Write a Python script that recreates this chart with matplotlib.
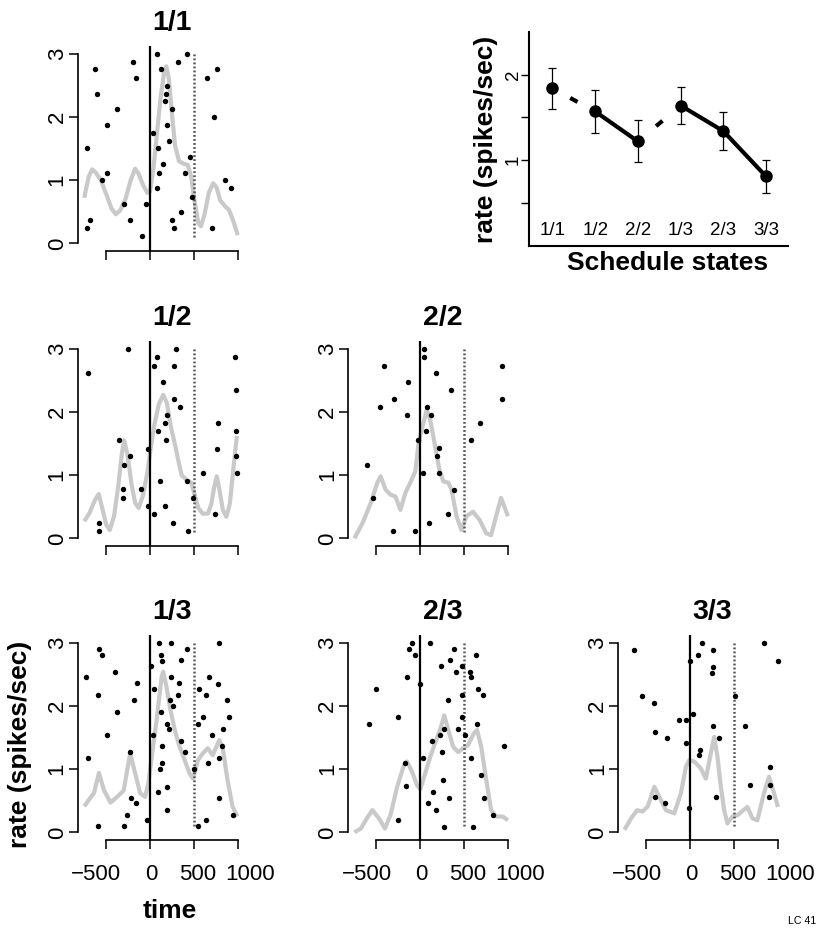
import numpy as np
import matplotlib
matplotlib.use("Agg")
from matplotlib import pyplot as plt
from matplotlib.transforms import ScaledTranslation

plt.rcParams['font.family'] = ['Liberation Sans', 'DejaVu Sans']
plt.rcParams['lines.scale_dashes'] = False

W, H = 825, 930

# summary: mean rate per schedule state
states = ["1/1", "1/2", "2/2", "1/3", "2/3", "3/3"]
state_rate = [1.84, 1.57, 1.22, 1.64, 1.34, 0.81]
state_err = [0.24, 0.25, 0.245, 0.22, 0.22, 0.19]
link_solid = [False, True, False, True, True]   # dashed = schedule change

# spike rasters (time, scaled trial row) and smoothed rate per state
sp11_t = [75, 425, -632, 120, 767, -199, 323, -158, 647, 199, -602, 184, 165, -380, 252, 733, -496, 188, 38, 218,
          -714, 90, 451, 150, -496, 102, 402, -553, 857, 75, 921, 478, -301, -45, 350, -681, -226, 256, -714, 278, 707, -86]
sp11_y = [3.0, 3.0, 2.75, 2.75, 2.75, 2.87, 2.87, 2.62, 2.62, 2.49, 2.37, 2.37, 2.25, 2.12, 2.12, 2.0, 1.87, 1.87, 1.74, 1.62,
          1.5, 1.5, 1.37, 1.25, 1.12, 1.12, 1.12, 1.0, 1.0, 0.87, 0.87, 0.74, 0.62, 0.62, 0.5, 0.37, 0.37, 0.37, 0.25, 0.25, 0.25, 0.12]
rt11_t = [-750, -700, -660, -620, -560, -500, -440, -390, -340, -280, -220, -170, -130, -80, -30, 0, 40, 80, 120, 160,
          185, 215, 250, 285, 330, 380, 430, 470, 510, 550, 580, 620, 670, 720, 760, 800, 860, 900, 950, 1000]
rt11_y = [0.72, 1.05, 1.17, 1.12, 1.0, 0.78, 0.55, 0.46, 0.52, 0.70, 1.0, 1.18, 1.1, 0.92, 0.80, 0.82, 1.2, 1.75, 2.3, 2.7,
          2.8, 2.6, 2.05, 1.55, 1.3, 1.26, 1.24, 1.05, 0.65, 0.32, 0.27, 0.45, 0.80, 0.95, 0.88, 0.68, 0.58, 0.53, 0.35, 0.13]

sp12_t = [-707, -256, 301, 75, 970, 45, 278, 150, 978, 271, 342, 196, 169, 775, 90, 985, -350, 180, -19, 767,
          -226, 985, -293, 609, 993, 109, 421, -308, -102, -312, 489, -19, 165, 45, 745, -579, 267, -587, 436]
sp12_y = [2.61, 3.0, 3.0, 2.87, 2.87, 2.73, 2.73, 2.48, 2.35, 2.21, 2.08, 1.95, 1.82, 1.82, 1.69, 1.69, 1.56, 1.56, 1.42, 1.42,
          1.30, 1.30, 1.16, 1.04, 1.04, 0.90, 0.90, 0.78, 0.78, 0.64, 0.64, 0.51, 0.51, 0.38, 0.38, 0.25, 0.25, 0.12, 0.12]
rt12_t = [-750, -690, -630, -585, -540, -500, -460, -410, -360, -320, -295, -260, -210, -170, -130, -80, -30, 10, 50, 100,
          150, 190, 240, 290, 330, 360, 420, 470, 510, 550, 600, 660, 700, 730, 760, 790, 830, 870, 910, 950, 990]
rt12_y = [0.27, 0.40, 0.60, 0.70, 0.45, 0.22, 0.13, 0.35, 0.85, 1.35, 1.55, 1.35, 0.85, 0.56, 0.48, 0.68, 1.05, 1.45, 1.80, 2.12,
          2.27, 2.15, 1.75, 1.45, 1.18, 1.0, 0.92, 0.88, 0.68, 0.48, 0.39, 0.39, 0.55, 0.80, 0.98, 0.78, 0.45, 0.34, 0.55, 1.1, 1.62]

sp22_t = [38, 45, -414, 929, 177, -143, 346, -297, 936, -462, 75, -150, 120, 677, 68, -30, 575, 214, 188, -609,
          26, 218, 380, -541, 320, 102, -316, -60]
sp22_y = [3.0, 2.87, 2.73, 2.73, 2.61, 2.48, 2.35, 2.21, 2.21, 2.08, 2.08, 1.95, 1.95, 1.82, 1.69, 1.56, 1.56, 1.43, 1.30, 1.16,
          1.04, 1.04, 0.77, 0.64, 0.38, 0.25, 0.12, 0.12]
rt22_t = [-750, -658, -564, -489, -451, -395, -338, -282, -226, -169, -113, -56, -19, 19, 75, 120, 169, 218, 263, 320,
          357, 414, 470, 526, 602, 677, 752, 808, 865, 921, 1000]
rt22_y = [0.0, 0.24, 0.56, 0.88, 0.98, 0.77, 0.69, 0.66, 0.45, 0.72, 0.88, 1.06, 1.51, 1.73, 2.04, 1.83, 1.46, 1.09, 0.9, 0.88,
          0.77, 0.35, 0.13, 0.35, 0.42, 0.29, 0.08, 0.05, 0.35, 0.64, 0.35]

sp13_t = [-733, -703, -583, -553, -590, -590, -402, -376, -496, -297, -259, -233, -214, -180, -162, -147, -30, 11, 30, 41,
          98, 90, 128, 139, 117, 139, 128, 132, 241, 244, 199, 214, 199, 199, 229, 267, 331, 323, 353, 357,
          395, 421, 500, 545, 553, 545, 609, 643, 658, 643, 677, 707, 786, 775, 782, 786, 820, 827, 872, 902, 948]
sp13_y = [2.45, 1.18, 2.9, 2.81, 2.18, 0.1, 2.54, 1.91, 1.54, 0.1, 0.27, 1.27, 0.55, 2.09, 0.46, 2.36, 0.19, 2.63, 1.54, 2.26,
          3.0, 0.64, 2.81, 2.71, 1.0, 1.09, 1.91, 1.36, 3.0, 2.45, 1.72, 1.63, 0.72, 0.36, 2.09, 2.0, 2.36, 2.18, 1.45, 2.72,
          1.27, 2.9, 1.0, 0.1, 2.27, 1.72, 1.82, 2.18, 1.09, 0.19, 2.45, 1.54, 3.0, 2.35, 1.18, 0.55, 1.36, 1.63, 2.09, 1.82, 0.27]
rt13_t = [-750, -684, -639, -583, -526, -451, -376, -301, -226, -169, -113, -56, -19, 19, 75, 132, 150, 188, 226, 282,
          338, 395, 451, 489, 545, 602, 658, 714, 790, 827, 883, 940, 996]
rt13_y = [0.41, 0.54, 0.62, 0.94, 0.67, 0.47, 0.56, 0.66, 1.25, 0.93, 0.62, 0.56, 0.77, 1.19, 1.77, 2.46, 2.54, 2.3, 1.98, 1.62,
          1.35, 1.14, 0.93, 0.85, 1.14, 1.25, 1.33, 1.22, 1.46, 1.35, 0.83, 0.41, 0.25]

sp23_t = [-583, -504, -256, -252, -169, -165, -154, -124, -90, -64, 0, 30, 94, 109, 135, 147, 177, 229, 237, 248,
          256, 267, 274, 312, 323, 342, 380, 410, 436, 474, 477, 474, 508, 568, 583, 575, 598, 632, 647, 662,
          692, 718, 726, 831, 955]
sp23_y = [1.72, 2.26, 0.19, 1.82, 1.09, 0.73, 2.45, 2.9, 3.0, 2.81, 2.35, 1.18, 0.46, 3.0, 1.45, 0.64, 0.36, 1.54, 2.63, 1.27,
          0.82, 0.09, 1.63, 2.09, 0.55, 2.72, 2.9, 2.54, 1.63, 2.63, 2.18, 1.82, 1.54, 2.54, 2.45, 1.18, 0.09, 2.81, 1.72, 2.27,
          0.91, 2.18, 0.55, 0.28, 1.36]
rt23_t = [-750, -677, -609, -545, -470, -402, -338, -263, -188, -150, -94, -38, 0, 56, 113, 169, 226, 274, 320, 376,
          432, 489, 545, 609, 647, 696, 752, 808, 865, 940, 1000]
rt23_y = [0.0, 0.06, 0.22, 0.35, 0.22, 0.06, 0.28, 0.72, 1.05, 1.12, 0.96, 0.75, 0.68, 0.93, 1.19, 1.41, 1.62, 1.85, 1.62, 1.35,
          1.27, 1.33, 1.38, 1.56, 1.62, 1.35, 0.83, 0.35, 0.25, 0.25, 0.19]

sp33_t = [-640, -550, -417, -405, -405, -292, -269, -133, -53, -53, -15, 0, 27, 83, 99, 117, 136, 250, 262, 265,
          254, 292, 326, 512, 622, 682, 845, 913, 906, 902, 1000]
sp33_y = [2.89, 2.15, 2.05, 1.59, 0.56, 0.47, 1.5, 1.78, 1.78, 1.41, 0.38, 2.71, 1.87, 2.8, 1.22, 1.31, 2.99, 2.52, 2.62, 2.89,
          1.68, 0.56, 1.5, 2.15, 1.68, 0.75, 2.99, 1.03, 0.75, 0.56, 2.71]
rt33_t = [-750, -675, -606, -542, -485, -409, -352, -277, -182, -106, -49, -11, 45, 121, 178, 235, 273, 311, 349, 387,
          424, 481, 538, 606, 652, 709, 765, 841, 898, 955, 1000]
rt33_y = [0.04, 0.22, 0.35, 0.33, 0.41, 0.72, 0.56, 0.35, 0.3, 0.62, 1.04, 1.14, 1.12, 1.01, 0.85, 1.25, 1.51, 1.19, 0.72, 0.35,
          0.14, 0.25, 0.27, 0.35, 0.4, 0.22, 0.19, 0.62, 0.88, 0.62, 0.4]

panels = {
    "1/1": (0, 0, sp11_t, sp11_y, rt11_t, rt11_y),
    "1/2": (1, 0, sp12_t, sp12_y, rt12_t, rt12_y),
    "2/2": (1, 1, sp22_t, sp22_y, rt22_t, rt22_y),
    "1/3": (2, 0, sp13_t, sp13_y, rt13_t, rt13_y),
    "2/3": (2, 1, sp23_t, sp23_y, rt23_t, rt23_y),
    "3/3": (2, 2, sp33_t, sp33_y, rt33_t, rt33_y),
}

fig = plt.figure(figsize=(W / 100, H / 100), dpi=100)


def add_ax(left, top, w, h):
    return fig.add_axes([left / W, 1 - (top + h) / H, w / W, h / H])


col_left = [78.1, 348.3, 618.3]
row_top = [46.1, 341.1, 635.1]
PW, PH = 188.6, 204.8
xlab_shift = [-7.0, 0.7, 2.8, 8.6]   # points, spreads the time labels like the original

for name, (r, c, st, sy, rt, ry) in panels.items():
    ax = add_ax(col_left[c], row_top[r], PW, PH)
    ax.set_xlim(-820, 1330)
    ax.set_ylim(-0.12, 3.12)
    ax.plot(rt, ry, color='#c9c9c9', lw=3, solid_joinstyle='round', solid_capstyle='butt', zorder=1)
    ax.axvline(0, color='black', lw=1.6, zorder=2)
    ax.vlines(500, 0.1, 3.0, colors='#555555', linestyles=(0, (1.3, 1.6)), lw=1.8, zorder=2)
    ax.plot(st, sy, 'o', ms=3.9, color='black', mew=0, zorder=3)
    for s in ['top', 'right']:
        ax.spines[s].set_visible(False)
    ax.spines['left'].set_bounds(0, 3)
    ax.spines['bottom'].set_bounds(-500, 1000)
    for s in ['left', 'bottom']:
        ax.spines[s].set_linewidth(1.2)
    ax.set_xticks([-500, 0, 500, 1000])
    ax.set_yticks([0, 1, 2, 3])
    ax.set_yticklabels(['0', '1', '2', '3'])
    ax.tick_params(direction='out', length=6.5, width=1.1, labelsize=16)
    ax.tick_params(axis='y', labelrotation=90, pad=1.0)
    for lab in ax.get_yticklabels():
        lab.set_va('center')
    if r < 2:
        ax.set_xticklabels([])
    else:
        ax.set_xticklabels(['\u2212500', '0', '500', '1000'])
        ax.tick_params(axis='x', pad=11)
        for lab, dx in zip(ax.get_xticklabels(), xlab_shift):
            lab.set_transform(lab.get_transform() + ScaledTranslation(dx / 72, 0, fig.dpi_scale_trans))
    ax.set_title(name, fontsize=20.5, fontweight='bold', pad=11.5)

# summary plot
ax = add_ax(529, 32, 259.3, 213.7)
ax.set_xlim(0.45, 6.52)
ax.set_ylim(0, 2.5)
xs = np.arange(1, len(states) + 1)
for i in range(len(states) - 1):
    if link_solid[i]:
        ax.plot(xs[i:i + 2], state_rate[i:i + 2], color='black', lw=3, solid_capstyle='butt', zorder=2)
    else:
        p1 = ax.transData.transform((xs[i], state_rate[i]))
        p2 = ax.transData.transform((xs[i + 1], state_rate[i + 1]))
        seg = np.hypot(*(p2 - p1)) * 72 / 100
        dash = 6.0
        start = (seg - dash) / 2
        ax.plot(xs[i:i + 2], state_rate[i:i + 2], color='black', lw=3,
                linestyle=(dash + seg - start, (dash, seg)), dash_capstyle='butt', zorder=2)
ax.errorbar(xs, state_rate, yerr=state_err, fmt='none', ecolor='black',
            elinewidth=0.9, capsize=3.2, capthick=0.9, zorder=3)
ax.plot(xs, state_rate, 'o', ms=8, color='black', zorder=4)
for x, s in zip(xs, states):
    ax.text(x, 0.18, s, ha='center', va='center', fontsize=13.5)
for s in ['top', 'right']:
    ax.spines[s].set_visible(False)
for s in ['left', 'bottom']:
    ax.spines[s].set_linewidth(1.5)
ax.set_xticks([])
ax.set_yticks([0.5, 1, 1.5, 2])
ax.set_yticklabels(['', '1', '', '2'])
ax.tick_params(axis='y', direction='out', length=5.5, width=1.0, labelsize=13.5, labelrotation=90, pad=-0.5)
for lab in ax.get_yticklabels():
    lab.set_va('center')

fig.text(486 / W, 1 - 139 / H, 'rate (spikes/sec)', rotation=90, ha='center', va='center',
         fontsize=19, fontweight='bold')
fig.text(667.5 / W, 1 - 263 / H, 'Schedule states', ha='center', va='center',
         fontsize=19, fontweight='bold')
fig.text(20 / W, 1 - 744 / H, 'rate (spikes/sec)', rotation=90, ha='center', va='center',
         fontsize=19, fontweight='bold')
fig.text(170 / W, 1 - 911 / H, 'time', ha='center', va='center', fontsize=19, fontweight='bold')
fig.text(816.7 / W, 1 - 920.7 / H, 'LC 41', ha='right', va='center', fontsize=7.7)

fig.savefig('out.png', dpi=100)
